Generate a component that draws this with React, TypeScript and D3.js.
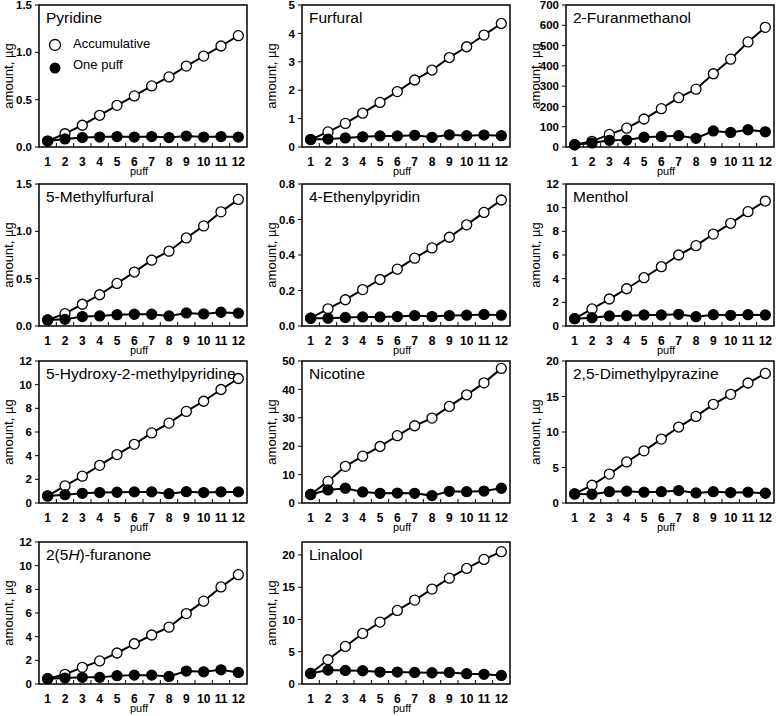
import React from "react";
import * as d3 from "d3";

// ---------- data ----------
const PUFFS = [1, 2, 3, 4, 5, 6, 7, 8, 9, 10, 11, 12];

const pyridineAcc = [0.063, 0.14, 0.23, 0.335, 0.44, 0.54, 0.645, 0.74, 0.855, 0.96, 1.067, 1.176];
const pyridineOne = [0.063, 0.085, 0.1, 0.105, 0.11, 0.105, 0.11, 0.1, 0.115, 0.105, 0.11, 0.105];

const furfuralAcc = [0.26, 0.53, 0.83, 1.19, 1.57, 1.95, 2.36, 2.71, 3.15, 3.53, 3.94, 4.35];
const furfuralOne = [0.26, 0.28, 0.32, 0.36, 0.39, 0.39, 0.41, 0.34, 0.43, 0.4, 0.42, 0.4];

const furanmethanolAcc = [11, 28, 62, 93, 138, 189, 243, 285, 361, 433, 518, 590];
const furanmethanolOne = [11, 20, 33, 34, 48, 52, 56, 43, 79, 72, 85, 75];

const methylfurfuralAcc = [0.064, 0.13, 0.23, 0.33, 0.45, 0.57, 0.695, 0.79, 0.93, 1.057, 1.206, 1.337];
const methylfurfuralOne = [0.064, 0.07, 0.1, 0.106, 0.12, 0.124, 0.124, 0.106, 0.138, 0.128, 0.145, 0.135];

const ethenylAcc = [0.044, 0.097, 0.148, 0.205, 0.262, 0.32, 0.382, 0.44, 0.5, 0.57, 0.64, 0.71];
const ethenylOne = [0.044, 0.044, 0.048, 0.051, 0.051, 0.053, 0.059, 0.053, 0.059, 0.061, 0.065, 0.061];

const mentholAcc = [0.62, 1.44, 2.28, 3.15, 4.08, 5.01, 6.0, 6.79, 7.77, 8.68, 9.66, 10.56];
const mentholOne = [0.62, 0.7, 0.85, 0.87, 0.93, 0.93, 0.99, 0.79, 0.96, 0.9, 0.96, 0.93];

const hydroxyAcc = [0.6, 1.45, 2.27, 3.18, 4.09, 4.96, 5.92, 6.75, 7.74, 8.6, 9.59, 10.52];
const hydroxyOne = [0.6, 0.7, 0.82, 0.88, 0.91, 0.94, 0.94, 0.79, 0.96, 0.88, 0.94, 0.94];

const nicotineAcc = [3.0, 7.6, 12.9, 16.5, 19.9, 23.7, 27.2, 29.9, 34.0, 38.1, 42.3, 47.4];
const nicotineOne = [3.0, 4.6, 5.2, 3.9, 3.4, 3.5, 3.4, 2.6, 4.1, 4.0, 4.2, 5.2];

const pyrazineAcc = [1.28, 2.5, 4.07, 5.78, 7.35, 9.0, 10.7, 12.2, 13.9, 15.3, 16.9, 18.25];
const pyrazineOne = [1.28, 1.23, 1.6, 1.66, 1.52, 1.6, 1.75, 1.42, 1.6, 1.47, 1.52, 1.37];

const furanoneAcc = [0.45, 0.82, 1.41, 1.95, 2.62, 3.4, 4.14, 4.8, 5.95, 7.0, 8.2, 9.24];
const furanoneOne = [0.45, 0.5, 0.56, 0.56, 0.7, 0.75, 0.75, 0.64, 1.09, 1.03, 1.2, 0.98];

const linaloolAcc = [1.64, 3.76, 5.82, 7.83, 9.59, 11.4, 13.0, 14.7, 16.4, 17.9, 19.3, 20.5];
const linaloolOne = [1.64, 2.15, 2.1, 2.05, 1.85, 1.85, 1.8, 1.74, 1.8, 1.6, 1.5, 1.33];

const ticks15 = [0, 0.5, 1.0, 1.5];
const ticks5 = [0, 1, 2, 3, 4, 5];
const ticks700 = [0, 100, 200, 300, 400, 500, 600, 700];
const ticks08 = [0, 0.2, 0.4, 0.6, 0.8];
const ticks12 = [0, 2, 4, 6, 8, 10, 12];
const ticks50 = [0, 10, 20, 30, 40, 50];
const ticks20 = [0, 5, 10, 15, 20];

const LEGEND_LABELS = ["Accumulative", "One puff"];
const X_TITLE = "puff";
const Y_TITLE = "amount, µg";

type Seg = { t: string; i?: boolean };
type PanelDef = {
  title: Seg[];
  acc: number[];
  one: number[];
  ymax: number;
  ticks: number[];
  dec: number;
  col: number;
  row: number;
  legend?: boolean;
};

const PANELS: PanelDef[] = [
  { title: [{ t: "Pyridine" }], acc: pyridineAcc, one: pyridineOne, ymax: 1.5, ticks: ticks15, dec: 1, col: 0, row: 0, legend: true },
  { title: [{ t: "Furfural" }], acc: furfuralAcc, one: furfuralOne, ymax: 5, ticks: ticks5, dec: 0, col: 1, row: 0 },
  { title: [{ t: "2-Furanmethanol" }], acc: furanmethanolAcc, one: furanmethanolOne, ymax: 700, ticks: ticks700, dec: 0, col: 2, row: 0 },
  { title: [{ t: "5-Methylfurfural" }], acc: methylfurfuralAcc, one: methylfurfuralOne, ymax: 1.5, ticks: ticks15, dec: 1, col: 0, row: 1 },
  { title: [{ t: "4-Ethenylpyridin" }], acc: ethenylAcc, one: ethenylOne, ymax: 0.8, ticks: ticks08, dec: 1, col: 1, row: 1 },
  { title: [{ t: "Menthol" }], acc: mentholAcc, one: mentholOne, ymax: 12, ticks: ticks12, dec: 0, col: 2, row: 1 },
  { title: [{ t: "5-Hydroxy-2-methylpyridine" }], acc: hydroxyAcc, one: hydroxyOne, ymax: 12, ticks: ticks12, dec: 0, col: 0, row: 2 },
  { title: [{ t: "Nicotine" }], acc: nicotineAcc, one: nicotineOne, ymax: 50, ticks: ticks50, dec: 0, col: 1, row: 2 },
  { title: [{ t: "2,5-Dimethylpyrazine" }], acc: pyrazineAcc, one: pyrazineOne, ymax: 20, ticks: ticks20, dec: 0, col: 2, row: 2 },
  { title: [{ t: "2(5" }, { t: "H", i: true }, { t: ")-furanone" }], acc: furanoneAcc, one: furanoneOne, ymax: 12, ticks: ticks12, dec: 0, col: 0, row: 3 },
  { title: [{ t: "Linalool" }], acc: linaloolAcc, one: linaloolOne, ymax: 22, ticks: ticks20, dec: 0, col: 1, row: 3 },
];

// ---------- layout ----------
const COL_X = [39, 302, 566];
const ROW_Y = [5, 184, 361, 542];
const BOX_W = 208;
const BOX_H = 142;
const FONT = "'Liberation Sans', Arial, Helvetica, sans-serif";
const R = 5;

function Panel({ p }: { p: PanelDef }) {
  const x0 = COL_X[p.col];
  const y0 = ROW_Y[p.row];
  const x = d3.scaleLinear().domain([0.5, 12.5]).range([x0, x0 + BOX_W]);
  const y = d3.scaleLinear().domain([0, p.ymax]).range([y0 + BOX_H, y0]);
  const line = d3
    .line<number>()
    .x((_, i) => x(PUFFS[i]))
    .y((d) => y(d));
  const fmt = d3.format(`.${p.dec}f`);
  const bottom = y0 + BOX_H;
  const boundaries = d3.range(1.5, 12.5, 1);

  return (
    <g>
      {/* x inner ticks */}
      {boundaries.map((b) => (
        <line key={"xt" + b} x1={x(b)} x2={x(b)} y1={bottom} y2={bottom - 4} stroke="#000" strokeWidth={1} />
      ))}
      {/* y ticks */}
      {p.ticks.map((t) => (
        <g key={"yt" + t}>
          <line x1={x0 - 4} x2={x0} y1={y(t)} y2={y(t)} stroke="#000" strokeWidth={1} />
          <text x={x0 - 7} y={y(t)} dy="0.36em" textAnchor="end" fontSize={11.5} fontWeight="bold" fontFamily={FONT}>
            {fmt(t)}
          </text>
        </g>
      ))}
      {/* x tick labels */}
      {PUFFS.map((v) => (
        <text key={"xl" + v} x={x(v)} y={bottom + 19} textAnchor="middle" fontSize={12} fontWeight="bold" fontFamily={FONT}>
          {v}
        </text>
      ))}
      <text x={x0 + BOX_W / 2 - 4} y={bottom + 28} textAnchor="middle" fontSize={11} fontFamily={FONT}>
        {X_TITLE}
      </text>
      <text
        transform={`translate(${x0 - 31},${y0 + BOX_H / 2}) rotate(-90)`}
        textAnchor="middle"
        dy="0.35em"
        fontSize={13}
        fontFamily={FONT}
      >
        {Y_TITLE}
      </text>
      {/* series */}
      <path d={line(p.acc) || ""} fill="none" stroke="#000" strokeWidth={2} />
      {p.acc.map((v, i) => (
        <circle key={"a" + i} cx={x(PUFFS[i])} cy={y(v)} r={R} fill="#fff" stroke="#000" strokeWidth={1.3} />
      ))}
      <path d={line(p.one) || ""} fill="none" stroke="#000" strokeWidth={2} />
      {p.one.map((v, i) => (
        <circle key={"o" + i} cx={x(PUFFS[i])} cy={y(v)} r={R} fill="#000" stroke="#000" strokeWidth={1.3} />
      ))}
      {/* box */}
      <rect x={x0} y={y0} width={BOX_W} height={BOX_H} fill="none" stroke="#000" strokeWidth={1.5} />
      {/* title */}
      <text x={x0 + 7} y={y0 + 18} fontSize={15.5} fontFamily={FONT}>
        {p.title.map((s, i) => (
          <tspan key={i} fontStyle={s.i ? "italic" : "normal"}>
            {s.t}
          </tspan>
        ))}
      </text>
      {p.legend && (
        <g>
          <circle cx={x0 + 16} cy={y0 + 40} r={R + 0.5} fill="#fff" stroke="#000" strokeWidth={1.3} />
          <text x={x0 + 34} y={y0 + 43} fontSize={13} fontFamily={FONT}>
            {LEGEND_LABELS[0]}
          </text>
          <circle cx={x0 + 16} cy={y0 + 63} r={R + 0.5} fill="#000" />
          <text x={x0 + 34} y={y0 + 64} fontSize={13} fontFamily={FONT}>
            {LEGEND_LABELS[1]}
          </text>
        </g>
      )}
    </g>
  );
}

export default function App() {
  return (
    <svg
      width={778}
      height={716}
      viewBox="0 0 778 716"
      style={{ position: "absolute", left: 0, top: 0, background: "#fff", display: "block" }}
    >
      <rect x={0} y={0} width={778} height={716} fill="#fff" />
      {PANELS.map((p, i) => (
        <Panel key={i} p={p} />
      ))}
    </svg>
  );
}
